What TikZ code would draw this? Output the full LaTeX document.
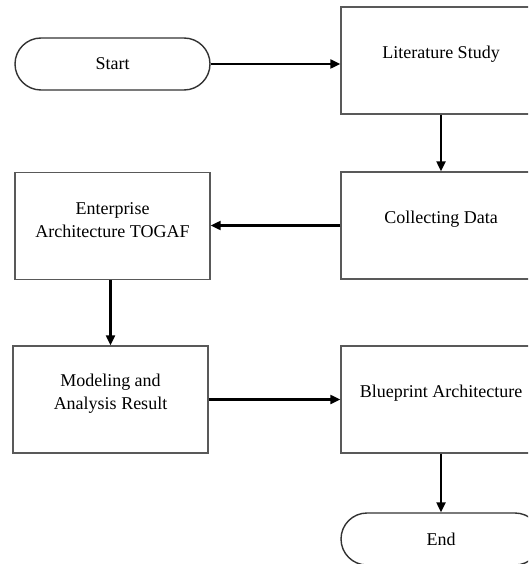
\documentclass[tikz,border=0pt]{standalone}
\usepackage{fontspec}
\setmainfont{Liberation Serif}
\usetikzlibrary{arrows.meta}
\begin{document}
\begin{tikzpicture}[x=1pt,y=-1pt,
  every node/.style={font=\fontsize{18}{23}\selectfont},
  stepbox/.style={draw=black!65, line width=1.4pt, fill=white, inner sep=0pt,
    minimum width=200pt, minimum height=107pt},
  terminal/.style={draw=black!80, line width=1.4pt, fill=white, inner sep=0pt,
    minimum width=195pt, minimum height=52pt, rounded corners=26pt},
  boxtext/.style={label={[yshift=6pt, align=center]center:#1}},
  flow/.style={line width=2.2pt, -{Triangle[length=10pt,width=9pt]}}
]
\useasboundingbox (0,0) rectangle (528,564);
\clip (0,0) rectangle (528,564);

% process boxes
\node[terminal] (start) at (112.5,64) {Start};
\node[stepbox, boxtext={Literature Study}] (lit) at (441,60.5) {};
\node[stepbox, boxtext={Collecting Data}] (coll) at (441,225.5) {};
\node[stepbox, minimum width=195pt, boxtext={Enterprise\\Architecture TOGAF}] (togaf) at (112.5,226) {};
\node[stepbox, minimum width=195pt, boxtext={Modeling and\\Analysis Result}] (model) at (110.5,399.5) {};
\node[stepbox, boxtext={Blueprint Architecture}] (blue) at (441,399.5) {};
\node[terminal, minimum width=200pt] (end) at (441,539) {End};

% flow arrows
\draw[flow] (start.east) -- (start.east -| lit.west);
\draw[flow] (lit.south) -- (coll.north);
\draw[flow] (coll.west) -- (coll.west -| togaf.east);
\draw[flow] (togaf.south -| model.north) -- (model.north);
\draw[flow] (model.east) -- (model.east -| blue.west);
\draw[flow] (blue.south) -- (end.north);
\end{tikzpicture}
\end{document}
